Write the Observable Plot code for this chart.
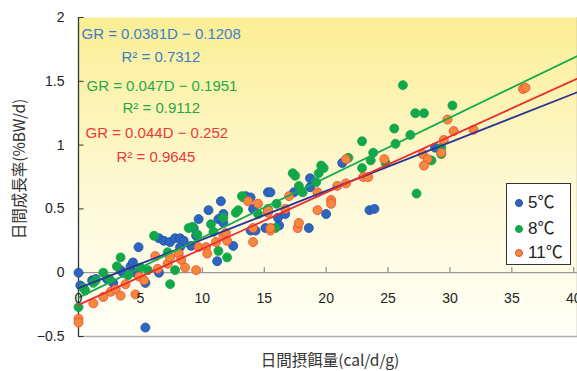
<!DOCTYPE html>
<html><head><meta charset="utf-8">
<script src="https://cdn.jsdelivr.net/npm/d3@7"></script>
<script src="https://cdn.jsdelivr.net/npm/@observablehq/plot@0.6"></script>
<style>
body{margin:0;background:#fff;}
#wrap{position:relative;width:577px;height:371px;overflow:hidden;}
#legend{position:absolute;left:506px;top:183px;width:65px;height:82px;border:1.5px solid #333;background:#fff;box-sizing:border-box;font-family:"Liberation Sans","Noto Sans CJK JP",sans-serif;font-size:17px;color:#222;}
#legend .row{position:absolute;left:0;height:20px;line-height:20px;white-space:nowrap;}
#legend .dot{position:absolute;left:8px;top:6px;width:8px;height:8px;border-radius:50%;box-sizing:border-box;}
#legend .lab{position:absolute;left:21px;top:0;}
</style>
</head><body>
<div id="wrap"></div>
<script>
// ---- data ----
const series = ["5℃", "8℃", "11℃"];
const blue5 = [[0,0],[0.15,-0.1],[1.1,-0.06],[1.4,-0.05],[2.3,-0.05],[2.8,-0.08],[3.4,0.02],[3.6,0.0],[4.2,0.05],[4.4,0.08],[4.6,0.0],[4.85,0.2],[5.4,-0.08],[5.4,-0.43],[6.5,0.0],[6.5,0.27],[6.9,0.25],[7.4,0.24],[7.8,0.27],[8.2,0.27],[8.2,0.2],[8.5,0.25],[9.1,0.21],[9.3,0.35],[9.5,0.29],[9.7,0.42],[10.5,0.49],[11.2,0.09],[11.3,0.42],[11.5,0.56],[11.7,0.46],[11.7,0.39],[12.5,0.21],[13.5,0.6],[13.9,0.59],[13.9,0.33],[14.1,0.5],[14.3,0.33],[15.1,0.35],[15.3,0.63],[15.5,0.63],[16.1,0.43],[16.2,0.37],[16.7,0.46],[17.4,0.63],[18.6,0.35],[18.7,0.74],[18.7,0.67],[20,0.46],[21.3,0.86],[23.5,0.49],[23.9,0.5],[28.8,0.98]];
const green8 = [[0,-0.27],[0.55,-0.14],[0.4,-0.12],[1.2,-0.08],[1.4,-0.06],[2,0.0],[2.5,-0.05],[3.1,0.05],[3.4,0.12],[4,-0.02],[5,0.04],[5.6,0.02],[6.1,0.29],[7.2,0.16],[7.4,-0.09],[7.8,0.02],[8.9,0.35],[9.2,0.36],[9.6,0.3],[10.7,0.38],[10.9,0.32],[11.3,0.17],[11.7,0.43],[12,0.12],[12.7,0.47],[13.2,0.6],[13.3,0.59],[12.9,0.49],[14.5,0.46],[16,0.54],[15.3,0.5],[15.9,0.35],[17.3,0.78],[17.5,0.76],[17.8,0.68],[18.1,0.63],[19.2,0.71],[19.6,0.84],[19.8,0.82],[19.4,0.78],[21.8,0.9],[22.9,1.03],[23.8,0.94],[23.6,0.88],[22.9,0.82],[24.8,0.86],[25.5,1.13],[25.6,1.01],[26.2,1.47],[26.8,1.08],[27.2,1.25],[27.9,1.25],[27.3,0.62],[28.5,0.88],[29.3,0.93],[29.3,0.98],[30.2,1.31]];
const orange11 = [[0,-0.36],[0,-0.39],[1.2,-0.24],[2,-0.19],[2.6,-0.15],[3,-0.13],[3.4,-0.18],[3.8,-0.09],[4.6,-0.17],[4.9,-0.03],[5.3,-0.06],[6.2,0.13],[6.4,0.03],[7.2,0.07],[7.4,0.12],[8.1,0.15],[8.3,0.1],[8.6,0.04],[9.5,0.02],[9.7,0.2],[10.3,0.2],[10.4,0.15],[11.1,0.24],[11.7,0.29],[11.9,0.31],[12,0.25],[13.7,0.56],[14.1,0.35],[14.1,0.24],[14.5,0.54],[15.3,0.47],[15.5,0.33],[15.5,0.35],[15.3,0.49],[16.7,0.5],[17,0.6],[17.7,0.35],[17.8,0.39],[19.3,0.49],[19.3,0.63],[20.4,0.57],[20.4,0.54],[20.9,0.68],[21.6,0.7],[21.6,0.89],[23,0.75],[23.4,0.75],[24.7,0.89],[27.8,0.93],[28.2,0.89],[27.9,0.84],[29.3,0.94],[29.5,1.04],[29.8,1.2],[30.3,1.11],[31.9,1.12],[35.9,1.44],[36.1,1.45]];
const slopes = [0.0381, 0.047, 0.044];
const intercepts = [-0.1208, -0.1951, -0.252];
const xTicks = [0, 5, 10, 15, 20, 25, 30, 35, 40];
const yTicks = [-0.5, 0, 0.5, 1, 1.5, 2];
const yTickLabels = ["−0.5", "0", "0.5", "1", "1.5", "2"];
const equations = ["GR = 0.0381D − 0.1208", "R² = 0.7312", "GR = 0.047D − 0.1951", "R² = 0.9112", "GR = 0.044D − 0.252", "R² = 0.9645"];
const xLabel = "日間摂餌量(cal/d/g)";
const yLabel = "日間成長率(%BW/d)";

// ---- styles ----
const fills = ["#2c66c2", "#12a84a", "#f5883a"];
const strokes = ["#1f4fa0", "#12a84a", "#e8453a"];
const lineColors = ["#2b3494", "#16aa4c", "#ec2d2d"];
const eqColors = ["#3a80c6", "#1faa47", "#ec3a3a"];
const eqPos = [[3,17],[43,40],[8,69],[44,91],[7,116],[38,140]];

const xMax = 40.3;
const pts = [blue5, green8, orange11].map(arr => arr.map(([x, y]) => ({x, y})));
const lines = slopes.map((s, i) => [0, xMax].map(x => ({x, y: s * x + intercepts[i]})));

const dotMarks = pts.map((d, i) => Plot.dot(d, {x: "x", y: "y", r: 4.5, fill: fills[i], stroke: strokes[i], strokeWidth: 0.8}));
const lineMarks = lines.map((d, i) => Plot.line(d, {x: "x", y: "y", stroke: lineColors[i], strokeWidth: 1.8}));
const eqMarks = equations.map((t, i) => Plot.text([t], {frameAnchor: "top-left", dx: eqPos[i][0], dy: eqPos[i][1], text: d => d, textAnchor: "start", lineAnchor: "middle", fill: eqColors[Math.floor(i/2)], fontSize: 15}));

const plot = Plot.plot({
  width: 577, height: 371,
  marginLeft: 78, marginRight: 0, marginTop: 17, marginBottom: 35,
  x: {domain: [0, xMax], axis: null},
  y: {domain: [-0.5, 2], axis: null},
  style: {fontFamily: "'Liberation Sans', Arial, sans-serif", fontSize: "14px", background: "transparent", overflow: "visible"},
  marks: [
    Plot.frame({fill: "url(#bggrad)", stroke: null}),
    Plot.ruleY([0], {stroke: "#9a9a9a", strokeWidth: 1.2}),
    Plot.ruleY([-0.5], {stroke: "#b0b0b0", strokeWidth: 1.5}),
    Plot.ruleX([xMax], {stroke: "#b0b0b0", strokeWidth: 1.5}),
    Plot.ruleX(xTicks.slice(1), {x: d => d, y1: 0, y2: 0.04, stroke: "#777"}),
    Plot.ruleY(yTicks, {y: d => d, x1: 0, x2: 0.45, stroke: "#333"}),
    Plot.ruleX([0], {stroke: "#333", strokeWidth: 1.3}),
    ...dotMarks,
    ...lineMarks,
    Plot.text(xTicks, {x: d => d, y: 0, dy: 26, text: d => String(d), fill: "#222", fontSize: 14}),
    Plot.text(yTicks, {x: 0, y: d => d, dx: -14, textAnchor: "end", text: (d, i) => yTickLabels[i], fill: "#222", fontSize: 14}),
    ...eqMarks,
    Plot.text([xLabel], {frameAnchor: "bottom", dx: 2, dy: 25, textAnchor: "middle", lineAnchor: "middle", text: d => d, fill: "#333", fontSize: 15.5, fontFamily: "'Noto Sans CJK JP', sans-serif"}),
    Plot.text([yLabel], {frameAnchor: "left", dx: -58, dy: -8, rotate: -90, textAnchor: "middle", lineAnchor: "middle", text: d => d, fill: "#333", fontSize: 15.5, fontFamily: "'Noto Sans CJK JP', sans-serif"})
  ]
});

const defs = d3.select(plot).insert("defs", ":first-child");
const g = defs.append("linearGradient").attr("id", "bggrad").attr("x1", 0).attr("y1", 0).attr("x2", 0).attr("y2", 1);
g.append("stop").attr("offset", "0%").attr("stop-color", "#fbee94");
g.append("stop").attr("offset", "55%").attr("stop-color", "#fef9d6");
g.append("stop").attr("offset", "100%").attr("stop-color", "#fffff6");

const wrap = document.getElementById("wrap");
wrap.appendChild(plot);

const legend = document.createElement("div");
legend.id = "legend";
const rowTops = [9, 35, 59];
series.forEach((s, i) => {
  const row = document.createElement("div");
  row.className = "row";
  row.style.top = rowTops[i] + "px";
  const dot = document.createElement("span");
  dot.className = "dot";
  dot.style.background = fills[i];
  dot.style.border = "1px solid " + strokes[i];
  const lab = document.createElement("span");
  lab.className = "lab";
  lab.textContent = s;
  row.appendChild(dot); row.appendChild(lab);
  legend.appendChild(row);
});
wrap.appendChild(legend);
</script>
</body></html>
